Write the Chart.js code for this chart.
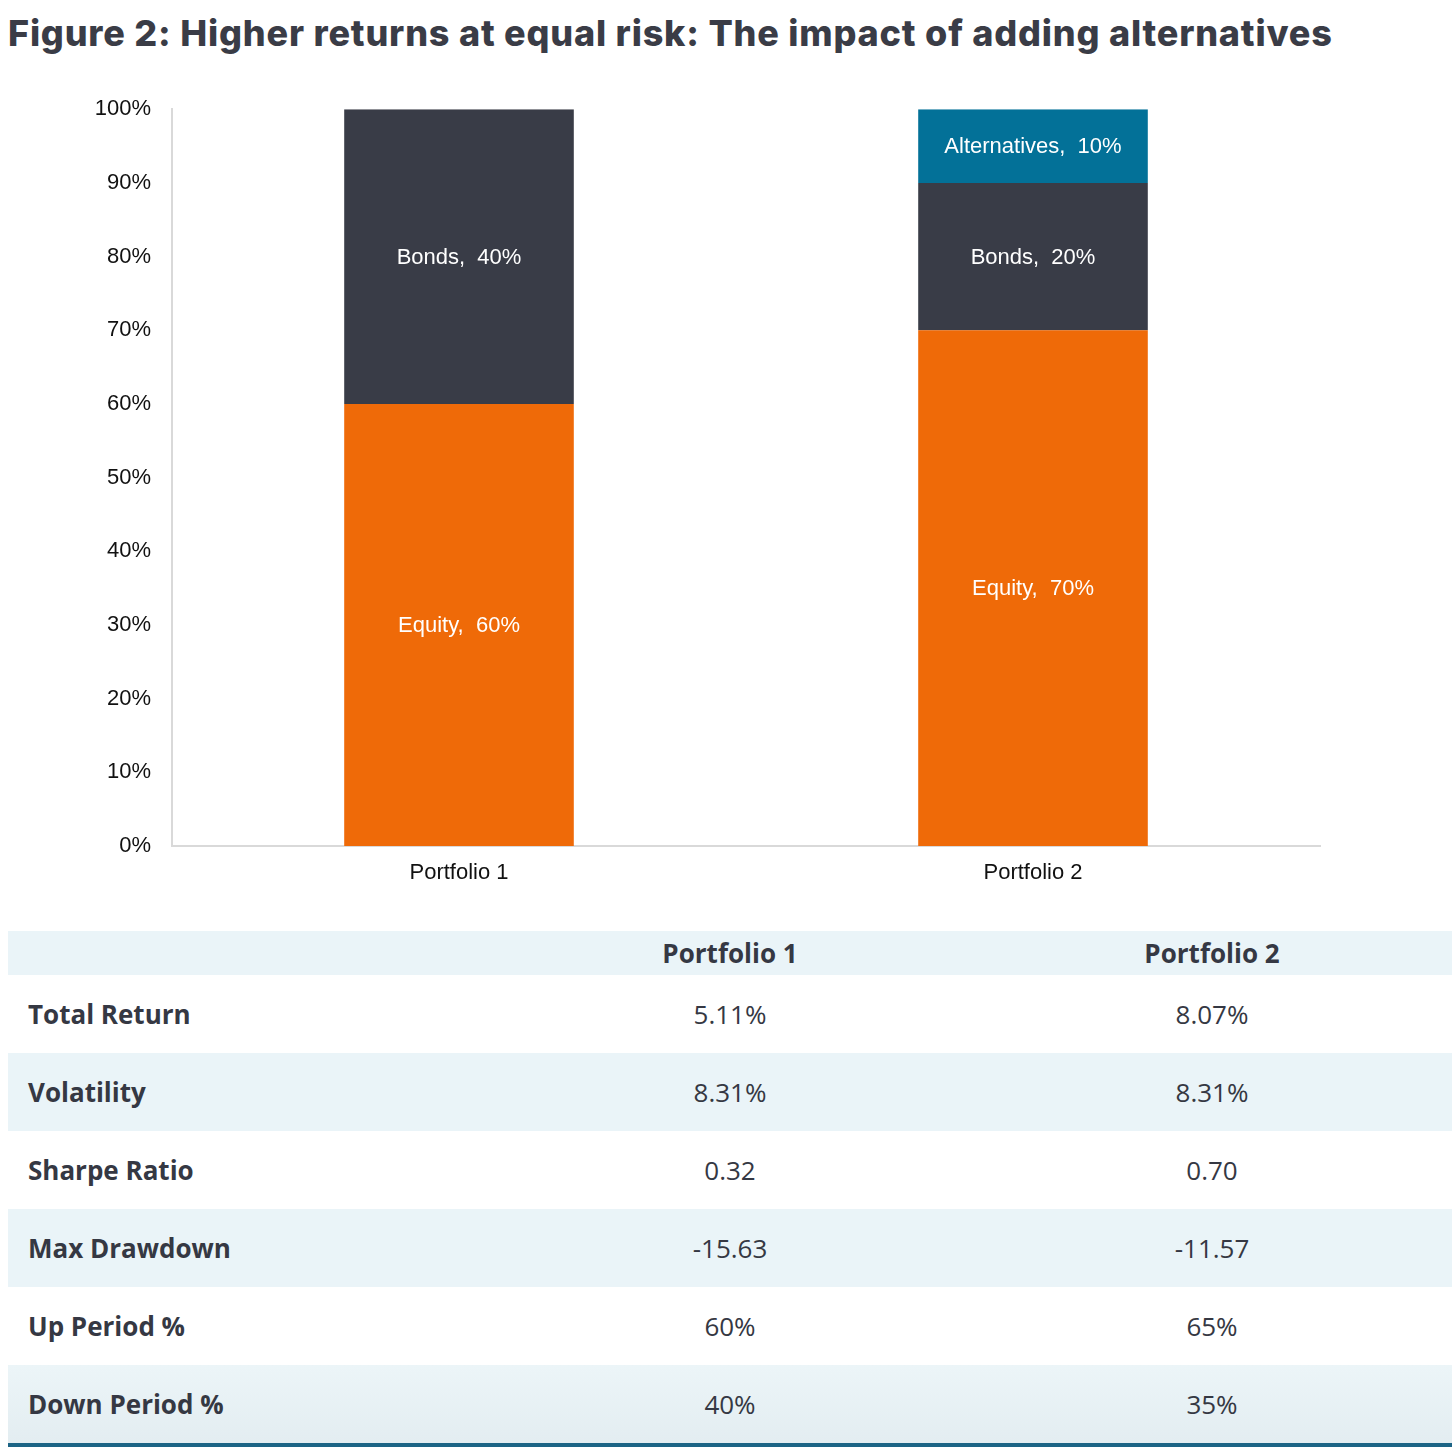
<!DOCTYPE html>
<html>
<head>
<meta charset="utf-8">
<script src="https://cdn.jsdelivr.net/npm/chart.js@4.4.1/dist/chart.umd.min.js"></script>
<style>
  html, body { margin: 0; padding: 0; background: #fff; }
  body { width: 1456px; height: 1448px; position: relative; overflow: hidden; }
  #title {
    position: absolute; left: 8px; top: 11px;
    font-family: Inter, sans-serif; font-weight: 800; font-size: 36px;
    color: #3a3c46; letter-spacing: 0.8px; white-space: nowrap;
  }
  #chartBox { position: absolute; left: 0; top: 75px; width: 1456px; height: 825px; }
  #stats {
    position: absolute; left: 8px; top: 931px; width: 1444px; table-layout: fixed;
    border-collapse: collapse; font-family: "Open Sans", sans-serif; color: #353843;
  }
  #stats th { height: 44px; font-size: 26px; font-weight: 700; background: #eaf4f8; padding: 0; }
  #stats td { height: 78px; font-size: 26px; padding: 0; }
  #stats td.name { font-weight: 700; padding-left: 20px; text-align: left; }
  #stats td.val, #stats th.val { text-align: center; }
  #stats tr.shade td { background: #eaf4f8; }
  #stats tr.last td { background: linear-gradient(to bottom, #ecf5f8, #e3edf1); border-bottom: 4px solid #1c6485; }
</style>
</head>
<body>
<div id="title">Figure 2: Higher returns at equal risk: The impact of adding alternatives</div>
<div id="chartBox"><canvas id="myChart"></canvas></div>
<table id="stats"></table>
<script>
const portfolios = ['Portfolio 1', 'Portfolio 2'];
const equity = [60, 70];
const bonds = [40, 20];
const alternatives = [0, 10];

const metrics = ['Total Return', 'Volatility', 'Sharpe Ratio', 'Max Drawdown', 'Up Period %', 'Down Period %'];
const p1Values = ['5.11%', '8.31%', '0.32', '-15.63', '60%', '40%'];
const p2Values = ['8.07%', '8.31%', '0.70', '-11.57', '65%', '35%'];

// table below the chart
const table = document.getElementById('stats');
let html = '<tr><th style="width:480px"></th><th class="val" style="width:484px">' + portfolios[0] +
    '</th><th class="val" style="width:480px">' + portfolios[1] + '</th></tr>';
metrics.forEach((m, i) => {
    let cls = i % 2 === 1 ? 'shade' : '';
    if (i === metrics.length - 1) cls += ' last';
    html += `<tr class="${cls}"><td class="name">${m}</td><td class="val">${p1Values[i]}</td><td class="val">${p2Values[i]}</td></tr>`;
});
table.innerHTML = html;

// writes "Name, xx%" in the middle of each segment
const segmentLabels = {
    id: 'segmentLabels',
    afterDatasetsDraw(chart) {
        const ctx = chart.ctx;
        ctx.save();
        ctx.fillStyle = '#ffffff';
        ctx.font = '22px "Liberation Sans", Arial, sans-serif';
        ctx.textAlign = 'center';
        ctx.textBaseline = 'middle';
        chart.data.datasets.forEach((ds, di) => {
            chart.getDatasetMeta(di).data.forEach((bar, i) => {
                const v = ds.data[i];
                if (!v) return;
                const mid = (bar.y + bar.base) / 2;
                ctx.fillText(`${ds.label},  ${v}%`, bar.x, mid + 1);
            });
        });
        ctx.restore();
    }
};

const ctx = document.getElementById('myChart').getContext('2d');
const myChart = new Chart(ctx, {
    type: 'bar',
    data: {
        labels: portfolios,
        datasets: [
            { label: 'Equity', data: equity, backgroundColor: '#ef6a08' },
            { label: 'Bonds', data: bonds, backgroundColor: '#393c47' },
            { label: 'Alternatives', data: alternatives, backgroundColor: '#037198' }
        ]
    },
    options: {
        animation: false,
        responsive: true,
        maintainAspectRatio: false,
        devicePixelRatio: 1,
        layout: { padding: { left: 0, right: 136, top: 28, bottom: 0 } },
        datasets: { bar: { barPercentage: 0.8, categoryPercentage: 0.5 } },
        plugins: { legend: false, tooltip: { enabled: false } },
        scales: {
            x: {
                stacked: true,
                grid: { display: false, drawTicks: false },
                border: { color: '#d9d9d9', width: 2 },
                ticks: { color: '#111', font: { family: '"Liberation Sans", Arial', size: 22 }, padding: 14 },
                afterFit: (s) => { s.height = 54; }
            },
            y: {
                stacked: true,
                min: 0,
                max: 100,
                grid: { display: false, drawTicks: false },
                border: { color: '#d9d9d9', width: 2 },
                ticks: {
                    stepSize: 10,
                    color: '#111',
                    padding: 21,
                    font: { family: '"Liberation Sans", Arial', size: 22 },
                    callback: (v) => v + '%'
                },
                afterFit: (s) => { s.width = 172; }
            }
        }
    },
    plugins: [segmentLabels]
});
</script>
</body>
</html>
